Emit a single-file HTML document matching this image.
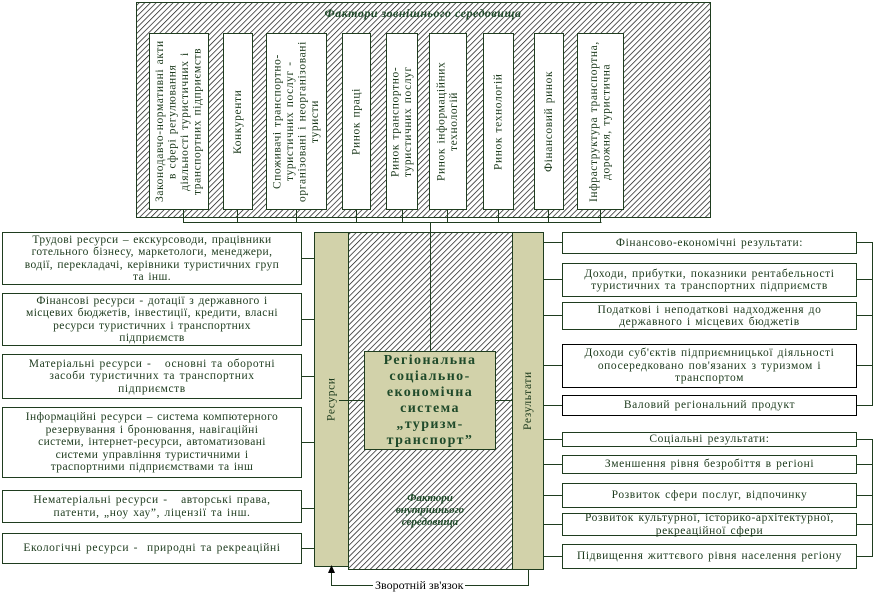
<!DOCTYPE html>
<html><head><meta charset="utf-8"><style>
body{margin:0;width:875px;height:599px;background:#fff;position:relative;overflow:hidden;font-family:"Liberation Serif","DejaVu Serif",serif;color:#1c3a1c}
.b{position:absolute;background:#fff;border:1px solid #1f3d1f;box-sizing:border-box;display:flex;align-items:center;justify-content:center;text-align:center;font-size:11.5px;line-height:12.5px;letter-spacing:0.6px;word-spacing:1px}
.n{white-space:nowrap}
.v{writing-mode:vertical-rl;transform:rotate(180deg);}
.v>span{display:block}
svg{position:absolute;left:0;top:0}
.t{position:absolute;text-align:center;font-weight:bold;font-style:italic;color:#1f4a2a}
</style></head><body>
<svg width="875" height="599">
<defs><pattern id="h" width="4" height="4" patternUnits="userSpaceOnUse" patternTransform="rotate(45)"><rect width="4" height="4" fill="#fff"/><line x1="0" y1="0" x2="0" y2="4" stroke="#000" stroke-width="1.3"/></pattern></defs>
<rect x="136.5" y="2.5" width="574" height="215" fill="url(#h)" stroke="#1f3d1f"/>
<rect x="348.5" y="232.5" width="164" height="337" fill="url(#h)" stroke="#1f3d1f"/>
<rect x="314.5" y="232.5" width="34" height="334" fill="#d2d2aa" stroke="#1f3d1f"/>
<rect x="512.5" y="232.5" width="31" height="337" fill="#d2d2aa" stroke="#1f3d1f"/>
<g stroke="#1f3d1f" fill="none" stroke-width="1">
<path d="M183.5 210V222.5H601.5M237.5 210V222M296.5 210V222M356.5 210V222M402.5 210V222M447.5 210V222M498.5 210V222M548.5 210V222M600.5 210V222M430.5 222V351"/>
<path d="M302 258.5H314M302 319.5H314M302 376.5H314M302 442.5H314M302 508.5H314M302 548.5H314"/>
<path d="M339 400.5H364M495 400.5H512"/>
<path d="M543 242.5H562M543 279.5H562M543 315.5H562M543 365.5H562M543 405.5H562M543 439.5H562M543 464.5H562M543 495.5H562M543 524.5H562M543 556.5H562"/>
<path d="M856 242.5H872.5V405.5H856M856 279.5H872M856 315.5H872M856 365.5H872M856 439.5H872.5V556.5H856M856 464.5H872M856 495.5H872M856 524.5H872"/>
<path d="M528.5 569V585.5H331.5V572"/>
</g>
<path d="M331.5 565L328 573H335Z" fill="#000"/>
</svg>
<div class="t" style="left:136px;top:6px;width:574px;font-size:12px;letter-spacing:0.5px">Фактори зовнішнього середовища</div>
<div class="b v" style="left:149px;top:33px;width:60px;height:177px"><span>Законодавчо-нормативні акти<br>в сфері регулювання<br>діяльності туристичних і<br>транспортних підприємств</span></div>
<div class="b v" style="left:223px;top:33px;width:30px;height:177px"><span>Конкуренти</span></div>
<div class="b v" style="left:266px;top:33px;width:61px;height:177px"><span>Споживачі транспортно-<br>туристичних послуг -<br>організовані і неорганізовані<br>туристи</span></div>
<div class="b v" style="left:342px;top:33px;width:29px;height:177px"><span>Ринок праці</span></div>
<div class="b v" style="left:386px;top:33px;width:32px;height:177px"><span>Ринок транспортно-<br>туристичних послуг</span></div>
<div class="b v" style="left:429px;top:33px;width:38px;height:177px"><span>Ринок інформаційних<br>технологій</span></div>
<div class="b v" style="left:483px;top:33px;width:31px;height:177px"><span>Ринок технологій</span></div>
<div class="b v" style="left:534px;top:33px;width:30px;height:177px"><span>Фінансовий ринок</span></div>
<div class="b v" style="left:577px;top:33px;width:47px;height:177px"><span>Інфраструктура транспортна,<br>дорожня, туристична</span></div>

<div class="b n" style="left:2px;top:232px;width:300px;height:53px;letter-spacing:0.4px">Трудові ресурси – екскурсоводи, працівники<br>готельного бізнесу, маркетологи, менеджери,<br>водії, перекладачі, керівники туристичних груп<br>та інш.</div>
<div class="b n" style="left:2px;top:293px;width:300px;height:53px;letter-spacing:0.4px">Фінансові ресурси - дотації з державного і<br>місцевих бюджетів, інвестиції, кредити, власні<br>ресурси туристичних і транспортних<br>підприємств</div>
<div class="b n" style="left:2px;top:354px;width:300px;height:45px">Матеріальні ресурси - &nbsp; основні та оборотні<br>засоби туристичних та транспортних<br>підприємств</div>
<div class="b n" style="left:2px;top:407px;width:300px;height:71px;letter-spacing:0.4px">Інформаційні ресурси – система компютерного<br>резервування і бронювання, навігаційні<br>системи, інтернет-ресурси, автоматизовані<br>системи управління туристичними і<br>траспортними підприємствами та інш</div>
<div class="b n" style="left:2px;top:490px;width:300px;height:33px">Нематеріальні ресурси - &nbsp; авторські права,<br>патенти, „ноу хау”, ліцензії та інш.</div>
<div class="b n" style="left:2px;top:533px;width:300px;height:31px">Екологічні ресурси - &nbsp;природні та рекреаційні</div>

<div class="b v" style="left:315px;top:233px;width:33px;height:333px;background:transparent;border:none"><span>Ресурси</span></div>
<div class="b v" style="left:513px;top:233px;width:30px;height:336px;background:transparent;border:none"><span>Результати</span></div>
<div class="b" style="left:364px;top:351px;width:132px;height:99px;background:#d2d2aa;font-weight:bold;font-size:14px;line-height:16px;color:#1f4a2a;letter-spacing:1.4px;padding:0 6px">Регіональна соціально-економічна система „туризм-транспорт”</div>
<div class="t" style="left:390px;top:492px;width:80px;font-size:11px;line-height:12px">Фактори внутрішнього середовища</div>

<div class="b" style="left:562px;top:232px;width:295px;height:22px">Фінансово-економічні результати:</div>
<div class="b n" style="left:562px;top:263px;width:295px;height:34px">Доходи, прибутки, показники рентабельності<br>туристичних та транспортних підприємств</div>
<div class="b n" style="left:562px;top:302px;width:295px;height:28px">Податкові і неподаткові надходження до<br>державного і місцевих бюджетів</div>
<div class="b n" style="left:562px;top:344px;width:295px;height:44px;border-color:#000">Доходи суб'єктів підприємницької діяльності<br>опосередковано пов'язаних з туризмом і<br>транспортом</div>
<div class="b" style="left:562px;top:395px;width:295px;height:21px;border-color:#000">Валовий регіональний продукт</div>
<div class="b" style="left:562px;top:432px;width:295px;height:15px">Соціальні результати:</div>
<div class="b" style="left:562px;top:455px;width:295px;height:19px">Зменшення рівня безробіття в регіоні</div>
<div class="b" style="left:562px;top:483px;width:295px;height:25px">Розвиток сфери послуг, відпочинку</div>
<div class="b n" style="left:562px;top:513px;width:295px;height:23px">Розвиток культурної, історико-архітектурної,<br>рекреаційної сфери</div>
<div class="b" style="left:562px;top:544px;width:295px;height:25px">Підвищення життєвого рівня населення регіону</div>

<div style="position:absolute;left:373px;top:578px;font-size:12px;background:#fff;padding:0 2px;color:#000">Зворотній зв'язок</div>
</body></html>
